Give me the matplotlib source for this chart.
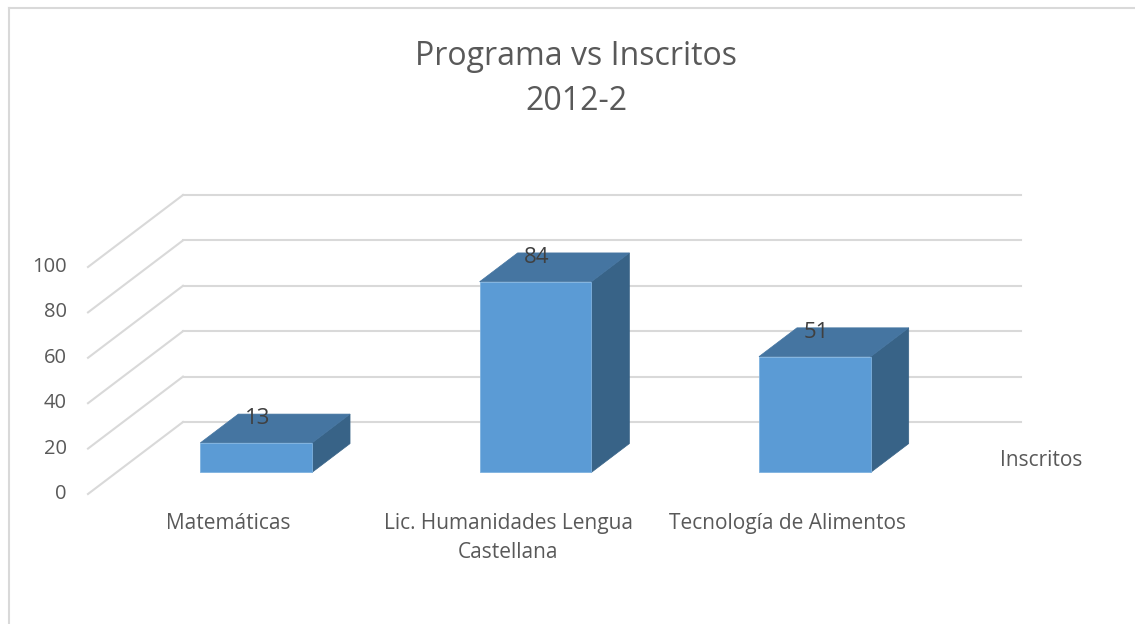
import matplotlib
matplotlib.use("Agg")
import matplotlib.pyplot as plt
from matplotlib.patches import Polygon
from matplotlib.lines import Line2D

# ---- data ----
categories = ["Matemáticas", "Lic. Humanidades Lengua\nCastellana", "Tecnología de Alimentos"]
values = [13, 84, 51]
yticks = [0, 20, 40, 60, 80, 100]
series_name = "Inscritos"
title = "Programa vs Inscritos\n2012-2"

plt.rcParams['font.family'] = ['Open Sans', 'DejaVu Sans']
TXT = "#595959"
GRID = "#d9d9d9"
FRONT = "#5b9bd5"
TOP = "#4575a1"
SIDE = "#386387"

W, H = 1135, 624
fig = plt.figure(figsize=(W / 100, H / 100), dpi=100)

# axes in the front plane (depth 0)
ax = fig.add_axes([88 / W, 130 / H, 838 / W, 227 / H])
ax.set_xlim(0, len(categories))
ax.set_ylim(0, 100)
ax.axis("off")

# depth vector in pixels (full depth)
DEPTH_PX = (95.0, 72.0)
fig.canvas.draw()
inv = ax.transData.inverted()
o = ax.transData.transform((0, 0))
p = inv.transform((o[0] + DEPTH_PX[0], o[1] + DEPTH_PX[1]))
ddx, ddy = p[0], p[1]


def P(x, v, d):
    return (x + d * ddx, v + d * ddy)


# gridlines: left wall diagonals and back wall horizontals
for v in yticks:
    ax.add_line(Line2D([P(0, v, 0)[0], P(0, v, 1)[0]], [P(0, v, 0)[1], P(0, v, 1)[1]],
                       color=GRID, lw=1.5, clip_on=False, zorder=1))
    ax.add_line(Line2D([P(0, v, 1)[0], P(len(categories), v, 1)[0]],
                       [P(0, v, 1)[1], P(len(categories), v, 1)[1]],
                       color=GRID, lw=1.5, clip_on=False, zorder=1))
    ax.annotate(str(v), (0, v), xytext=(-21, 0), textcoords="offset pixels",
                ha="right", va="center", fontsize=14.5, color=TXT)

# bars
bw = 0.4
d0, d1 = 0.3, 0.7
for i, v in enumerate(values):
    xl = i + 0.5 - bw / 2
    xr = i + 0.5 + bw / 2
    front = Polygon([P(xl, 0, d0), P(xr, 0, d0), P(xr, v, d0), P(xl, v, d0)],
                    closed=True, facecolor=FRONT, edgecolor="#7eb2e0", lw=0.6,
                    clip_on=False, zorder=3)
    top = Polygon([P(xl, v, d0), P(xr, v, d0), P(xr, v, d1), P(xl, v, d1)],
                  closed=True, facecolor=TOP, edgecolor=TOP, lw=0.5,
                  clip_on=False, zorder=3)
    side = Polygon([P(xr, 0, d0), P(xr, 0, d1), P(xr, v, d1), P(xr, v, d0)],
                   closed=True, facecolor=SIDE, edgecolor=SIDE, lw=0.5,
                   clip_on=False, zorder=3)
    for patch in (side, top, front):
        ax.add_patch(patch)
    lx, ly = P(i + 0.5, v, d0)
    ax.annotate(str(v), (lx, ly), xytext=(1, 24), textcoords="offset pixels",
                ha="center", va="center", fontsize=16, color="#404040", zorder=5)

# category labels
for i, c in enumerate(categories):
    ax.annotate(c, (i + 0.5, 0), xytext=(1, -19), textcoords="offset pixels",
                ha="center", va="top", fontsize=15, color=TXT, linespacing=1.5)

# series (depth axis) label
ax.annotate(series_name, (len(categories), 0), xytext=(74, 34), textcoords="offset pixels",
            ha="left", va="center", fontsize=15, color=TXT)

# title
fig.text(0.5075, 1 - 79 / H, title, ha="center", va="center", fontsize=23,
         color=TXT, linespacing=1.5)

# chart border (left and top visible)
fig.add_artist(Line2D([8.5 / W, 8.5 / W], [0, 1 - 7.5 / H], transform=fig.transFigure,
                      color="#d9d9d9", lw=1.5))
fig.add_artist(Line2D([8.5 / W, 1], [1 - 7.5 / H, 1 - 7.5 / H], transform=fig.transFigure,
                      color="#d9d9d9", lw=1.5))

fig.savefig("out.png", dpi=100, facecolor="white")
